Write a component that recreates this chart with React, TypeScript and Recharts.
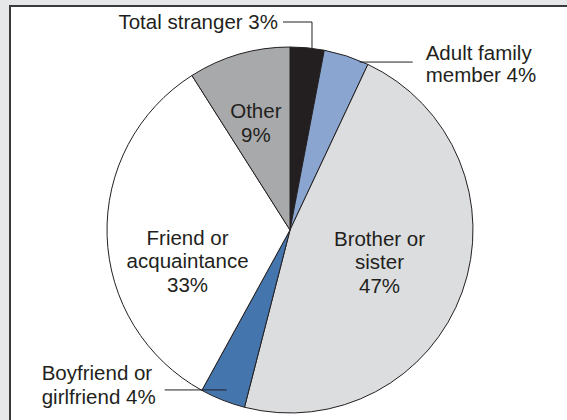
import { Cell, Pie, PieChart } from "recharts";

const categories = [
  "Total stranger",
  "Adult family member",
  "Brother or sister",
  "Boyfriend or girlfriend",
  "Friend or acquaintance",
  "Other",
];
const shares = [3, 4, 47, 4, 33, 9];
const labelLines = [
  ["Total stranger 3%"],
  ["Adult family", "member 4%"],
  ["Brother or", "sister", "47%"],
  ["Boyfriend or", "girlfriend 4%"],
  ["Friend or", "acquaintance", "33%"],
  ["Other", "9%"],
];
const sliceColors = ["#231f20", "#8aa5cf", "#dcdddf", "#4575ad", "#ffffff", "#a8a9ab"];

const INK = "#231f20";
const FONT = "'Liberation Sans', Arial, Helvetica, sans-serif";
const FS = 20.5;
const RAD = Math.PI / 180;

const polar = (cx: number, cy: number, r: number, angle: number) => ({
  x: cx + r * Math.cos(-angle * RAD),
  y: cy + r * Math.sin(-angle * RAD),
});

// how each slice's label sits: inside the slice, or out at the end of a leader line
const layout: any[] = [
  { kind: "up", angleShift: -1.5 },
  { kind: "right", angleShift: -5.4 },
  { kind: "inside", r: 0.52, dy: 0, dx: 0 },
  { kind: "left", angleShift: 0 },
  { kind: "inside", r: 0.56, dy: 28, dx: 0 },
  { kind: "inside", r: 0.61, dy: 0, dx: -3 },
];

const data = categories.map((name, i) => ({ name, value: shares[i] }));

function renderLabel(props: any) {
  const { cx, cy, midAngle, outerRadius, index } = props;
  const lay = layout[index];
  const lines = labelLines[index];
  const txt = (x: number, y: number, s: string, anchor: string, k: number) => (
    <text key={k} x={x} y={y} textAnchor={anchor} fontSize={FS} fontFamily={FONT} fill={INK}>
      {s}
    </text>
  );

  if (lay.kind === "inside") {
    const p = polar(cx, cy, outerRadius * lay.r, midAngle);
    const step = 23.5;
    const yc = p.y + lay.dy;
    return (
      <g>
        {lines.map((s, i) =>
          txt(p.x + lay.dx, yc + (i - (lines.length - 1) / 2) * step + 7, s, "middle", i)
        )}
      </g>
    );
  }

  if (lay.kind === "up") {
    const p = polar(cx, cy, outerRadius, midAngle + lay.angleShift);
    const top = cy - outerRadius - 25;
    const endX = p.x - 29;
    return (
      <g>
        <polyline points={`${p.x},${p.y} ${p.x},${top} ${endX},${top}`} fill="none" stroke={INK} strokeWidth={1} />
        {txt(endX - 5, top + 7, lines[0], "end", 0)}
      </g>
    );
  }

  if (lay.kind === "right") {
    const p = polar(cx, cy, outerRadius, midAngle + lay.angleShift);
    const endX = p.x + 50;
    return (
      <g>
        <line x1={p.x - 3} y1={p.y} x2={endX} y2={p.y} stroke={INK} strokeWidth={1} />
        {lines.map((s, i) => txt(endX + 13, p.y - 2 + i * 22, s, "start", i))}
      </g>
    );
  }

  // left
  const p = polar(cx, cy, outerRadius * 0.94, midAngle + lay.angleShift);
  const endX = p.x - 62;
  return (
    <g>
      <line x1={p.x} y1={p.y} x2={endX} y2={p.y} stroke={INK} strokeWidth={1} />
      {lines.map((s, i) => txt(endX - 123, p.y - 10 + i * 24, s, "start", i))}
    </g>
  );
}

export default function App() {
  return (
    <div
      style={{
        position: "absolute",
        left: 0,
        top: 0,
        width: 567,
        height: 420,
        overflow: "hidden",
        background: "#e6e7e8",
      }}
    >
      <div
        style={{
          position: "absolute",
          left: 9,
          top: 5,
          width: 620,
          height: 480,
          background: "#ffffff",
          borderLeft: "2px solid #3a3a3a",
          borderTop: "2px solid #3a3a3a",
        }}
      />
      <div style={{ position: "absolute", left: 0, top: 0 }}>
        <PieChart width={567} height={420} margin={{ top: 0, right: 0, bottom: 0, left: 0 }}>
          <Pie
            data={data}
            dataKey="value"
            nameKey="name"
            cx={290}
            cy={230}
            outerRadius={183}
            startAngle={90}
            endAngle={-270}
            stroke={INK}
            strokeWidth={1}
            label={renderLabel}
            labelLine={false}
            isAnimationActive={false}
          >
            {data.map((d, i) => (
              <Cell key={d.name} fill={sliceColors[i]} />
            ))}
          </Pie>
        </PieChart>
      </div>
    </div>
  );
}
